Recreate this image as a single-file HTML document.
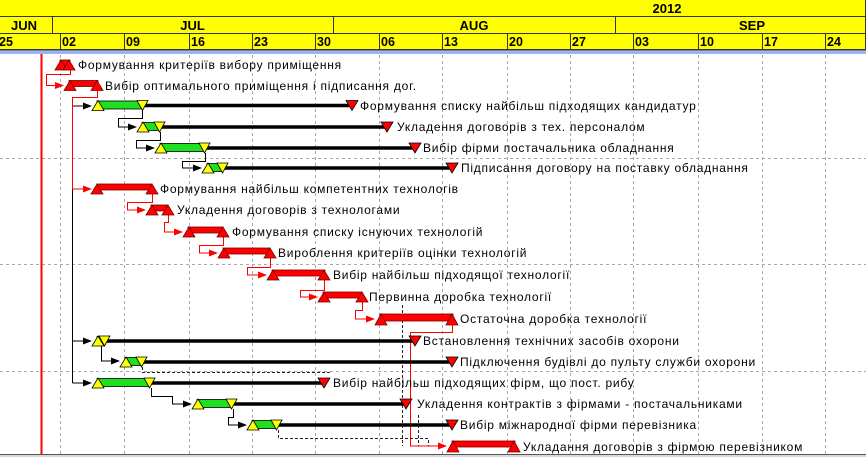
<!DOCTYPE html>
<html><head><meta charset="utf-8"><style>
html,body{margin:0;padding:0;background:#fff;width:866px;height:457px;overflow:hidden}
svg{display:block}
.h{font-family:"Liberation Sans",Arial,sans-serif;font-weight:bold;font-size:13px;fill:#000}
.w{font-family:"Liberation Sans",Arial,sans-serif;font-weight:bold;font-size:12.5px;fill:#000}
.t{font-family:"Liberation Sans","Noto Sans CJK SC",sans-serif;font-size:12px;letter-spacing:0.75px;fill:#000}
</style></head><body>
<svg width="866" height="457" viewBox="0 0 866 457" xmlns="http://www.w3.org/2000/svg">
<rect x="0" y="0" width="866" height="457" fill="#fff"/>
<!-- header -->
<rect x="0" y="0" width="866" height="50" fill="#ffff00"/>
<line x1="0" y1="16.5" x2="866" y2="16.5" stroke="#333" stroke-width="1"/>
<line x1="0" y1="33.5" x2="866" y2="33.5" stroke="#333" stroke-width="1"/>
<line x1="0" y1="49.5" x2="866" y2="49.5" stroke="#333" stroke-width="1"/>
<rect x="0" y="50" width="866" height="4" fill="#9fb4ea"/>
<line x1="0" y1="50.5" x2="866" y2="50.5" stroke="#6a84cc" stroke-width="1"/>
<line x1="865.5" y1="0" x2="865.5" y2="50" stroke="#333" stroke-width="1"/>
<text class="h" x="667" y="13" text-anchor="middle">2012</text>
<g stroke="#333" stroke-width="1">
<line x1="52.5" y1="17" x2="52.5" y2="33"/>
<line x1="333.5" y1="17" x2="333.5" y2="33"/>
<line x1="615.5" y1="17" x2="615.5" y2="33"/>
</g>
<text class="h" x="24" y="30" text-anchor="middle">JUN</text>
<text class="h" x="192.5" y="30" text-anchor="middle">JUL</text>
<text class="h" x="474" y="30" text-anchor="middle">AUG</text>
<text class="h" x="752" y="30" text-anchor="middle">SEP</text>
<g stroke="#333" stroke-width="1">
<line x1="60.5" y1="34" x2="60.5" y2="49"/>
<line x1="124.5" y1="34" x2="124.5" y2="49"/>
<line x1="189.5" y1="34" x2="189.5" y2="49"/>
<line x1="252.5" y1="34" x2="252.5" y2="49"/>
<line x1="315.5" y1="34" x2="315.5" y2="49"/>
<line x1="379.5" y1="34" x2="379.5" y2="49"/>
<line x1="442.5" y1="34" x2="442.5" y2="49"/>
<line x1="507.5" y1="34" x2="507.5" y2="49"/>
<line x1="570.5" y1="34" x2="570.5" y2="49"/>
<line x1="633.5" y1="34" x2="633.5" y2="49"/>
<line x1="698.5" y1="34" x2="698.5" y2="49"/>
<line x1="762.5" y1="34" x2="762.5" y2="49"/>
<line x1="825.5" y1="34" x2="825.5" y2="49"/>
</g>
<g class="w">
<text x="-1" y="46">25</text>
<text x="62" y="46">02</text>
<text x="126" y="46">09</text>
<text x="191" y="46">16</text>
<text x="254" y="46">23</text>
<text x="317" y="46">30</text>
<text x="381" y="46">06</text>
<text x="444" y="46">13</text>
<text x="509" y="46">20</text>
<text x="572" y="46">27</text>
<text x="635" y="46">03</text>
<text x="700" y="46">10</text>
<text x="764" y="46">17</text>
<text x="827" y="46">24</text>
</g>
<!-- grid -->
<g stroke="#a8a8a8" stroke-width="1" stroke-dasharray="3 3">
<line x1="60.5" y1="55" x2="60.5" y2="454"/>
<line x1="124.5" y1="55" x2="124.5" y2="454"/>
<line x1="189.5" y1="55" x2="189.5" y2="454"/>
<line x1="252.5" y1="55" x2="252.5" y2="454"/>
<line x1="315.5" y1="55" x2="315.5" y2="454"/>
<line x1="379.5" y1="55" x2="379.5" y2="454"/>
<line x1="442.5" y1="55" x2="442.5" y2="454"/>
<line x1="507.5" y1="55" x2="507.5" y2="454"/>
<line x1="570.5" y1="55" x2="570.5" y2="454"/>
<line x1="633.5" y1="55" x2="633.5" y2="454"/>
<line x1="698.5" y1="55" x2="698.5" y2="454"/>
<line x1="762.5" y1="55" x2="762.5" y2="454"/>
<line x1="825.5" y1="55" x2="825.5" y2="454"/>
<line x1="0" y1="158.5" x2="866" y2="158.5"/>
<line x1="0" y1="264.5" x2="866" y2="264.5"/>
<line x1="0" y1="371.5" x2="866" y2="371.5"/>
</g>
<!-- current date line -->
<line x1="41.5" y1="54" x2="41.5" y2="454" stroke="#ff0000" stroke-width="2"/>

<!-- slack dashed lines -->
<g stroke="#222" stroke-width="1" stroke-dasharray="3 2" fill="none">
<polyline points="142.5,367 142.5,372.5 332,372.5"/>
<line x1="402.5" y1="305" x2="402.5" y2="446"/>
<polyline points="278.5,430 278.5,438.5 428.5,438.5 428.5,446"/>
<line x1="418.5" y1="415" x2="418.5" y2="446"/>
</g>

<!-- connectors black -->
<g stroke="#000" stroke-width="1" fill="none">
<line x1="72.5" y1="189" x2="72.5" y2="383"/>
<line x1="72.5" y1="106" x2="84" y2="106"/>
<line x1="72.5" y1="341" x2="84" y2="341"/>
<line x1="72.5" y1="383" x2="84" y2="383"/>
<polyline points="142.5,110 142.5,118.5 118.5,118.5 118.5,127 129,127"/>
<polyline points="160.5,132 160.5,140.5 136.5,140.5 136.5,148 147,148"/>
<polyline points="205.5,153 205.5,161.5 182.5,161.5 182.5,168 194,168"/>
<polyline points="101.5,346 101.5,361 112,361"/>
<polyline points="151.5,388 151.5,396.5 172.5,396.5 172.5,404 184,404"/>
<polyline points="233.5,409 233.5,417.5 228.5,417.5 228.5,425 239,425"/>
</g>
<g fill="#000">
<polygon points="83,102.5 92,106 83,109.5"/>
<polygon points="83,337.5 92,341 83,344.5"/>
<polygon points="83,379.5 92,383 83,386.5"/>
<polygon points="128,123.5 137,127 128,130.5"/>
<polygon points="146,144.5 155,148 146,151.5"/>
<polygon points="193,164.5 202,168 193,171.5"/>
<polygon points="111,357.5 120,361 111,364.5"/>
<polygon points="183,400.5 192,404 183,407.5"/>
<polygon points="238,421.5 247,425 238,428.5"/>
</g>
<!-- connectors red -->
<g stroke="#ff0000" stroke-width="1" fill="none">
<polyline points="70.5,69 70.5,74.5 46.5,74.5 46.5,85.5 56,85.5"/>
<polyline points="97.5,90 97.5,97.5 72.5,97.5 72.5,189 84,189"/>
<polyline points="152.5,194 152.5,202.5 127.5,202.5 127.5,210 138,210"/>
<polyline points="168.5,215 168.5,222.5 164.5,222.5 164.5,232 175,232"/>
<polyline points="223.5,237 223.5,245.5 199.5,245.5 199.5,253 210,253"/>
<polyline points="270.5,258 270.5,267.5 247.5,267.5 247.5,275 259,275"/>
<polyline points="324.5,280 324.5,290.5 300.5,290.5 300.5,297 310,297"/>
<polyline points="362.5,302 362.5,310.5 355.5,310.5 355.5,319 367,319"/>
<polyline points="452.5,325 452.5,332.5 410.5,332.5 410.5,446 439,446"/>
</g>
<g fill="#ff0000">
<polygon points="55,82 64,85.5 55,89"/>
<polygon points="83,185.5 92,189 83,192.5"/>
<polygon points="137,206.5 146,210 137,213.5"/>
<polygon points="174,228.5 183,232 174,235.5"/>
<polygon points="209,249.5 218,253 209,256.5"/>
<polygon points="258,271.5 267,275 258,278.5"/>
<polygon points="309,293.5 318,297 309,300.5"/>
<polygon points="366,315.5 375,319 366,322.5"/>
<polygon points="438,442.5 447,446 438,449.5"/>
</g>

<!-- progress lines -->
<g stroke="#000" stroke-width="3.5">
<line x1="143" y1="105.5" x2="352" y2="105.5"/>
<line x1="160" y1="127" x2="387" y2="127"/>
<line x1="205" y1="148" x2="415" y2="148"/>
<line x1="223" y1="168" x2="452" y2="168"/>
<line x1="105" y1="341" x2="415" y2="341"/>
<line x1="142" y1="362" x2="452" y2="362"/>
<line x1="150" y1="383" x2="324" y2="383"/>
<line x1="232" y1="404" x2="406" y2="404"/>
<line x1="277" y1="425" x2="452" y2="425"/>
</g>

<!-- green bars -->
<g stroke="#000" stroke-width="0.8">
<rect x="97" y="101" width="46" height="8" fill="#1ee01e"/>
<polygon points="92,110.5 104,110.5 98,100.5" fill="#ffff00"/>
<polygon points="137,100.5 148,100.5 142.5,110.5" fill="#ffff00"/>
<polygon points="346,100.5 358,100.5 352,110.5" fill="#ff0000"/>

<rect x="142" y="122.5" width="18" height="8" fill="#1ee01e"/>
<polygon points="137,132 149,132 143,122" fill="#ffff00"/>
<polygon points="154,122 165,122 159.5,132" fill="#ffff00"/>
<polygon points="381,122 393,122 387,132" fill="#ff0000"/>

<rect x="160" y="143.5" width="45" height="8" fill="#1ee01e"/>
<polygon points="155,153 167,153 161,143" fill="#ffff00"/>
<polygon points="199,143 210,143 204.5,153" fill="#ffff00"/>
<polygon points="409,143 421,143 415,153" fill="#ff0000"/>

<rect x="207" y="163.5" width="16" height="8" fill="#1ee01e"/>
<polygon points="202,173 214,173 208,163" fill="#ffff00"/>
<polygon points="217,163 228,163 222.5,173" fill="#ffff00"/>
<polygon points="446,163 458,163 452,173" fill="#ff0000"/>

<rect x="97" y="336.5" width="8" height="8" fill="#1ee01e"/>
<polygon points="92,346 104,346 98,336" fill="#ffff00"/>
<polygon points="99,336 110,336 104.5,346" fill="#ffff00"/>
<polygon points="409,336 421,336 415,346" fill="#ff0000"/>

<rect x="125" y="357.5" width="17" height="8" fill="#1ee01e"/>
<polygon points="120,367 132,367 126,357" fill="#ffff00"/>
<polygon points="136,357 147,357 141.5,367" fill="#ffff00"/>
<polygon points="446,357 458,357 452,367" fill="#ff0000"/>

<rect x="97" y="378.5" width="53" height="8" fill="#1ee01e"/>
<polygon points="92,388 104,388 98,378" fill="#ffff00"/>
<polygon points="144,378 155,378 149.5,388" fill="#ffff00"/>
<polygon points="318,378 330,378 324,388" fill="#ff0000"/>

<rect x="197" y="399.5" width="35" height="8" fill="#1ee01e"/>
<polygon points="192,409 204,409 198,399" fill="#ffff00"/>
<polygon points="226,399 237,399 231.5,409" fill="#ffff00"/>
<polygon points="400,399 412,399 406,409" fill="#ff0000"/>

<rect x="252" y="420.5" width="25" height="8" fill="#1ee01e"/>
<polygon points="247,430 259,430 253,420" fill="#ffff00"/>
<polygon points="271,420 282,420 276.5,430" fill="#ffff00"/>
<polygon points="446,420 458,420 452,430" fill="#ff0000"/>
</g>

<!-- red bars -->
<g stroke="#7a0000" stroke-width="0.8" fill="#ff0000">
<rect x="60" y="60" width="10" height="6"/>
<polygon points="55,70 67,70 61,60"/>
<polygon points="63,70 75,70 69,60"/>

<rect x="69" y="80.5" width="29" height="6"/>
<polygon points="64,90.5 76,90.5 70,80.5"/>
<polygon points="91,90.5 103,90.5 97,80.5"/>

<rect x="97" y="184" width="55" height="6"/>
<polygon points="91,194 103,194 97,184"/>
<polygon points="146,194 158,194 152,184"/>

<rect x="151" y="205" width="17" height="6"/>
<polygon points="146,215 158,215 152,205"/>
<polygon points="162,215 174,215 168,205"/>

<rect x="188" y="227" width="35" height="6"/>
<polygon points="183,237 195,237 189,227"/>
<polygon points="217,237 229,237 223,227"/>

<rect x="223" y="248" width="47" height="6"/>
<polygon points="218,258 230,258 224,248"/>
<polygon points="264,258 276,258 270,248"/>

<rect x="272" y="270" width="53" height="6"/>
<polygon points="267,280 279,280 273,270"/>
<polygon points="318,280 330,280 324,270"/>

<rect x="323" y="292" width="39" height="6"/>
<polygon points="318,302 330,302 324,292"/>
<polygon points="356,302 368,302 362,292"/>

<rect x="380" y="314" width="73" height="7"/>
<polygon points="375,325 387,325 381,314"/>
<polygon points="446,325 458,325 452,314"/>

<rect x="452" y="441" width="63" height="6"/>
<polygon points="447,452 459,452 453,441"/>
<polygon points="508,452 520,452 514,441"/>
</g>

<!-- labels -->
<g class="t">
<text x="78" y="69">Формування критеріїв вибору приміщення</text>
<text x="105" y="90">Вибір оптимального приміщення і підписання дог.</text>
<text x="360" y="110">Формування списку найбільш підходящих кандидатур</text>
<text x="397" y="131">Укладення договорів з тех. персоналом</text>
<text x="423" y="152">Вибір фірми постачальника обладнання</text>
<text x="461" y="172">Підписання договору на поставку обладнання</text>
<text x="160" y="193">Формування найбільш компетентних технологів</text>
<text x="177" y="214">Укладення договорів з технологами</text>
<text x="232" y="236">Формування списку існуючих технологій</text>
<text x="278" y="257">Вироблення критеріїв оцінки технологій</text>
<text x="333" y="279">Вибір найбільш підходящої технології</text>
<text x="369" y="301">Первинна доробка технології</text>
<text x="460" y="323">Остаточна доробка технології</text>
<text x="423" y="345">Встановлення технічних засобів охорони</text>
<text x="460" y="366">Підключення будівлі до пульту служби охорони</text>
<text x="333" y="387">Вибір найбільш підходящих фірм, що пост. рибу</text>
<text x="417" y="408">Укладення контрактів з фірмами - постачальниками</text>
<text x="460" y="429">Вибір міжнародної фірми перевізника</text>
<text x="523" y="451">Укладання договорів з фірмою перевізником</text>
</g>
<line x1="0" y1="454.5" x2="866" y2="454.5" stroke="#555" stroke-width="1"/>
<rect x="0" y="455" width="866" height="2" fill="#d8d8d8"/>
</svg>
</body></html>
